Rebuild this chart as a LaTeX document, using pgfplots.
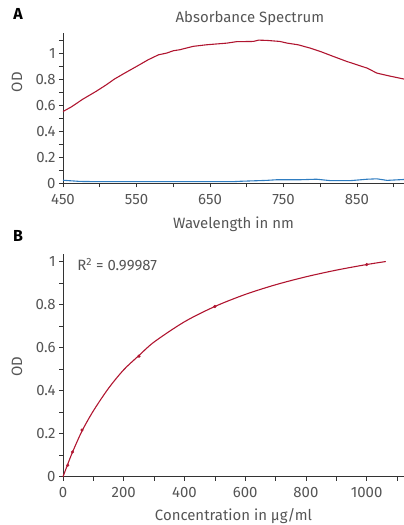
\documentclass[border=0pt]{standalone}
\usepackage{fontspec}
\setmainfont{Fira Sans}
\usepackage{pgfplots}
\pgfplotsset{compat=1.18}

\definecolor{odred}{HTML}{B01530}
\definecolor{odblue}{HTML}{2F7DC1}
\definecolor{txtgray}{HTML}{555555}
\definecolor{axgray}{HTML}{333333}

\pgfplotsset{
  panel/.style={
    scale only axis,
    axis lines*=left,
    axis line style={axgray, line width=0.8pt, -},
    tick align=outside,
    major tick length=4bp,
    minor tick length=4bp,
    every tick/.style={axgray, line width=0.6pt},
    tick label style={font=\fontsize{15}{17}\selectfont, text=txtgray},
    xticklabel style={yshift=-3bp},
    label style={font=\fontsize{15}{17}\selectfont, text=txtgray},
    /pgf/number format/assume math mode=true,
    /pgf/number format/1000 sep={},
    clip=false,
  }
}

\begin{document}
\begin{tikzpicture}
\path[use as bounding box] (0,0) rectangle (404bp,525bp);

% A
\begin{axis}[panel,
  at={(63bp,341.5bp)}, anchor=south west,
  width=341bp, height=150.5bp,
  xmin=450, xmax=914, ymin=0, ymax=1.16,
  xtick={450,550,650,750,850}, minor xtick={500,600,700,800,900},
  ytick={0,0.2,0.4,0.6,0.8,1}, minor ytick={0.1,0.3,0.5,0.7,0.9,1.1},
  xlabel={Wavelength in nm},
  xlabel style={at={(axis description cs:0.5,-0.269)}, anchor=center},
  ylabel={OD},
  ylabel style={at={(axis description cs:-0.135,0.674)}, anchor=center},
]
\addplot[odred, line width=1.1pt] coordinates {
(450,0.555) (461,0.589) (477,0.650) (495,0.710) (509,0.761) (520,0.805)
(534,0.851) (550,0.902) (566,0.954) (580,0.992) (591,1.005) (600,1.023)
(609,1.031) (627,1.057) (645,1.069) (673,1.082) (686,1.093) (709,1.095)
(716,1.105) (727,1.103) (745,1.095) (755,1.082) (770,1.069) (786,1.044)
(800,1.018) (818,0.979) (836,0.941) (850,0.915) (864,0.889) (877,0.851)
(893,0.830) (914,0.805)
};
\addplot[odblue, line width=1.1pt] coordinates {
(450,0.025) (473,0.016) (500,0.014) (600,0.014) (680,0.014) (691,0.017)
(727,0.024) (741,0.029) (773,0.029) (795,0.033) (814,0.022) (841,0.022)
(864,0.033) (877,0.036) (891,0.024) (914,0.031)
};
\node[font=\fontsize{15}{17}\selectfont, text=txtgray] at (axis description cs:0.548,1.095) {Absorbance Spectrum};
\end{axis}

% B
\begin{axis}[panel,
  at={(63bp,48.3bp)}, anchor=south west,
  width=341bp, height=222.7bp,
  xmin=0, xmax=1123, ymin=0, ymax=1.035,
  xtick={0,200,400,600,800,1000}, minor xtick={100,300,500,700,900,1100},
  ytick={0,0.2,0.4,0.6,0.8,1}, minor ytick={0.1,0.3,0.5,0.7,0.9},
  xlabel={Concentration in µg/ml},
  xlabel style={at={(axis description cs:0.5,-0.178)}, anchor=center},
  ylabel={OD},
  ylabel style={at={(axis description cs:-0.135,0.493)}, anchor=center},
]
\addplot[odred, line width=1.1pt, smooth] coordinates {
(0,0) (15.6,0.058) (31.25,0.114) (62.5,0.212) (100,0.306) (150,0.411)
(200,0.497) (250,0.563) (300,0.626) (400,0.720) (500,0.791) (600,0.847)
(700,0.892) (800,0.929) (900,0.960) (1000,0.986) (1063,1.0)
};
\addplot[only marks, mark=*, mark size=1.4pt, odred] coordinates {
(15.6,0.053) (31.25,0.115) (62.5,0.217) (250,0.560) (500,0.791) (1000,0.986)
};
\node[font=\fontsize{15}{17}\selectfont, text=txtgray, anchor=west] at (axis cs:36,0.985) {R\textsuperscript{2} = 0.99987};
\end{axis}

\node[font=\bfseries\fontsize{16}{18}\selectfont, anchor=center] at (18bp,511bp) {A};
\node[font=\bfseries\fontsize{16}{18}\selectfont, anchor=center] at (18bp,289bp) {B};
\end{tikzpicture}
\end{document}
